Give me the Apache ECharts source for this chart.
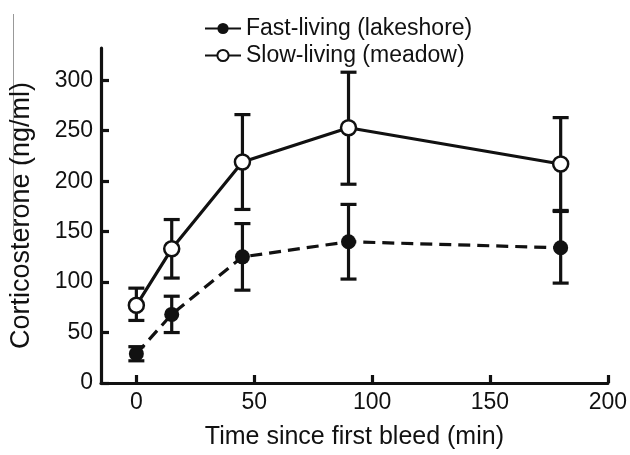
<!DOCTYPE html>
<html>
<head>
<meta charset="utf-8">
<script src="https://cdn.jsdelivr.net/npm/echarts@6/dist/echarts.min.js"></script>
<style>html,body{margin:0;padding:0;background:#fff}#c{width:630px;height:455px}</style>
</head>
<body>
<div id="c"></div>
<script>
const times = [0, 15, 45, 90, 180];
const fastMean = [29, 68, 125, 140, 134];
const fastLow = [22, 50, 92, 103, 99];
const fastHigh = [36, 86, 158, 177, 170];
const slowMean = [77, 133, 219, 253, 217];
const slowLow = [62, 104, 172, 197, 171];
const slowHigh = [94, 162, 266, 308, 263];
const xTicks = [0, 50, 100, 150, 200];
const yTicks = [0, 50, 100, 150, 200, 250, 300];
const fastName = 'Fast-living (lakeshore)';
const slowName = 'Slow-living (meadow)';

const INK = '#111';
const FONT = 'Liberation Sans, Arial, sans-serif';

function errRender(params, api) {
  const x = api.value(0), lo = api.value(1), hi = api.value(2);
  const a = api.coord([x, hi]), b = api.coord([x, lo]);
  const hw = 8;
  const st = {stroke: INK, lineWidth: 3.2};
  return {type: 'group', children: [
    {type: 'line', shape: {x1: a[0], y1: a[1], x2: b[0], y2: b[1]}, style: st},
    {type: 'line', shape: {x1: a[0]-hw, y1: a[1], x2: a[0]+hw, y2: a[1]}, style: st},
    {type: 'line', shape: {x1: b[0]-hw, y1: b[1], x2: b[0]+hw, y2: b[1]}, style: st}
  ]};
}

const chart = echarts.init(document.getElementById('c'), null, {renderer: 'canvas'});
chart.setOption({
  animation: false,
  backgroundColor: '#fff',
  grid: {left: 100, right: 20, top: 48, bottom: 67, containLabel: false},
  legend: {
    orient: 'vertical', left: 199, top: 12, itemWidth: 36, itemHeight: 14, itemGap: 4,
    textStyle: {fontFamily: FONT, fontSize: 23, color: INK},
    data: [
      {name: fastName, lineStyle: {type: 'solid'}},
      {name: slowName, lineStyle: {type: 'solid'}}
    ]
  },
  graphic: [{type: 'line', shape: {x1: 13.5, y1: 14, x2: 13.5, y2: 235}, style: {stroke: '#999', lineWidth: 1}}],
  xAxis: {
    type: 'value', min: -15, max: 200,
    name: 'Time since first bleed (min)', nameLocation: 'middle', nameGap: 42,
    nameTextStyle: {fontFamily: FONT, fontSize: 25, color: INK},
    axisLine: {onZero: false, lineStyle: {color: INK, width: 3.2}},
    axisTick: {inside: true, length: 8, lineStyle: {color: INK, width: 3.2}, customValues: xTicks},
    axisLabel: {fontFamily: FONT, fontSize: 23, color: INK, margin: 8, customValues: xTicks},
    splitLine: {show: false}
  },
  yAxis: {
    type: 'value', min: 0, max: 332,
    name: 'Corticosterone (ng/ml)', nameLocation: 'middle', nameGap: 66,
    nameTextStyle: {fontFamily: FONT, fontSize: 27, color: INK},
    axisLine: {onZero: false, lineStyle: {color: INK, width: 3.2}},
    axisTick: {inside: true, length: 8, lineStyle: {color: INK, width: 3.2}, customValues: yTicks},
    axisLabel: {fontFamily: FONT, fontSize: 23, color: INK, margin: 8, customValues: yTicks},
    splitLine: {show: false}
  },
  series: [
    {type: 'custom', name: 'fastErr', renderItem: errRender, z: 1,
     data: times.map((t, i) => [t, fastLow[i], fastHigh[i]])},
    {type: 'custom', name: 'slowErr', renderItem: errRender, z: 1,
     data: times.map((t, i) => [t, slowLow[i], slowHigh[i]])},
    {type: 'line', name: fastName, z: 3,
     data: times.map((t, i) => [t, fastMean[i]]),
     symbol: 'circle', symbolSize: 15,
     itemStyle: {color: INK, borderColor: INK, borderWidth: 0},
     lineStyle: {color: INK, width: 3.2, type: [12, 7]}},
    {type: 'line', name: slowName, z: 3,
     data: times.map((t, i) => [t, slowMean[i]]),
     symbol: 'circle', symbolSize: 15,
     itemStyle: {color: '#fff', borderColor: INK, borderWidth: 2.5},
     lineStyle: {color: INK, width: 3.2}}
  ]
});
</script>
</body>
</html>
